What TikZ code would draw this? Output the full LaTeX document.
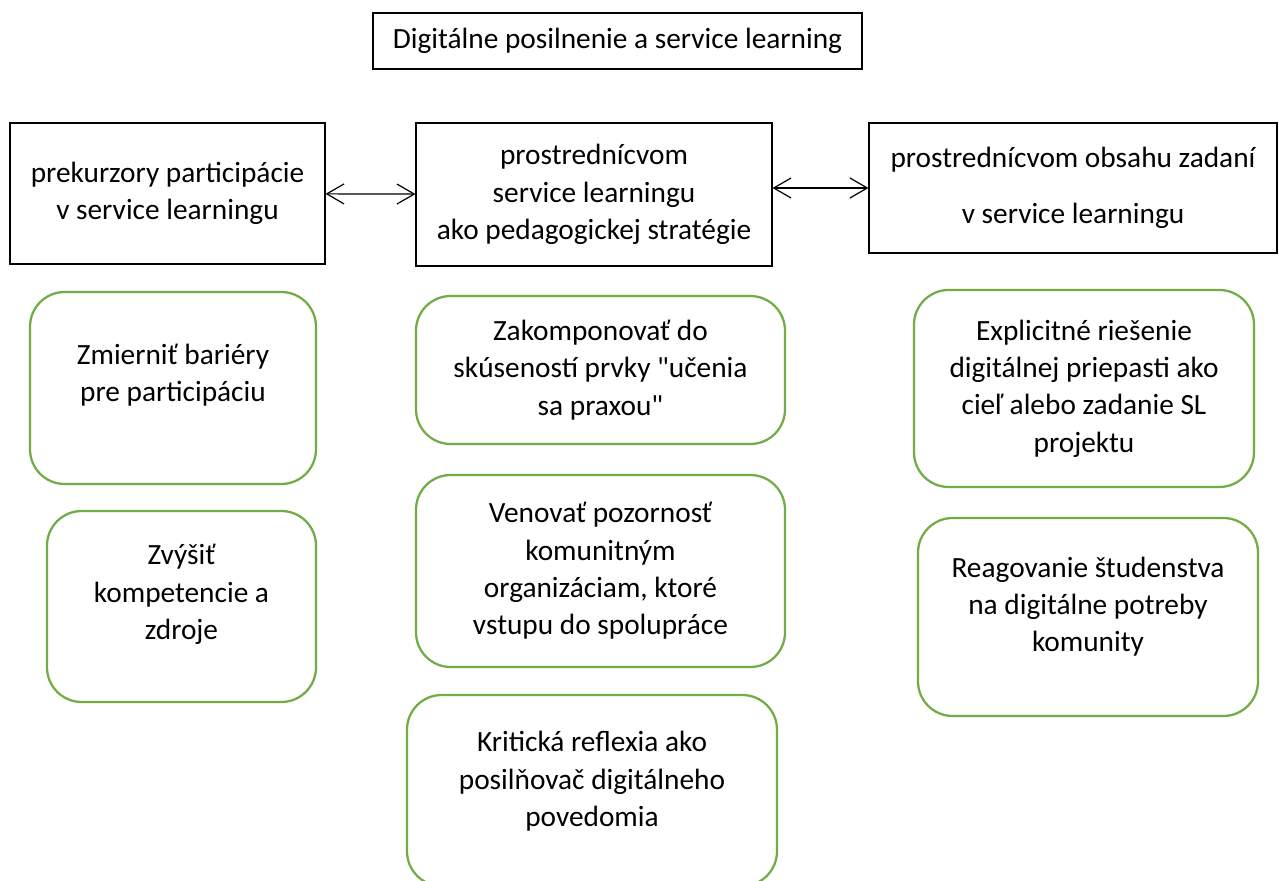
\documentclass[tikz,border=0pt]{standalone}
\usepackage{fontspec}
\setmainfont{Carlito}
\usetikzlibrary{positioning,arrows.meta}
\definecolor{boxgreen}{RGB}{112,173,71}

\begin{document}
\begin{tikzpicture}[
  x=0.75pt, y=-0.75pt,
  every node/.style={font=\fontsize{22}{28}\selectfont, align=center},
  %% Node styles
  hdnode/.style={
    draw=black, line width=0.8pt, inner sep=0pt,
  },
  grnode/.style={
    draw=boxgreen, line width=1.7pt, rounded corners=26pt,
    inner sep=0pt,
  },
  %% Edge style
  dedge/.style={draw=black, line width=0.9pt,
    {Straight Barb[length=13pt,width=15pt]}-{Straight Barb[length=13pt,width=15pt]}},
]
\clip (0,0) rectangle (1279,881);
\fill[white] (0,0) rectangle (1279,881);

%% Title
\node[hdnode, minimum width=366.75pt, minimum height=42pt]
    (title) at (617.5, 41) {Digitálne posilnenie a service learning};

%% Top row
\node[hdnode, minimum width=236.25pt, minimum height=105.75pt]
    (p1) at (167.5, 193.5) {prekurzory participácie\\v service learningu};
\node[hdnode, minimum width=267pt, minimum height=107.25pt]
    (p2) at (594, 194.5) {prostrednícvom\\service learningu\\ako pedagogickej stratégie};
\node[hdnode, minimum width=306pt, minimum height=97.5pt]
    (p3) at (1073, 188) {prostrednícvom obsahu zadaní\\[14pt]v service learningu};

\draw[dedge] (p1) -- (p2);
\draw[dedge] (p3.west -| p2.east) -- (p3.west);

%% Left column
\node[grnode, minimum width=214.5pt, minimum height=144pt]
    (l1) at (173, 388) {Zmierniť bariéry\\pre participáciu\\[-14pt]\strut};
\node[grnode, minimum width=201.75pt, minimum height=143.25pt]
    (l2) at (181.5, 606.5) {Zvýšiť\\kompetencie a\\zdroje\\[-14.5pt]\strut};

%% Middle column
\node[grnode, minimum width=276.75pt, minimum height=111pt]
    (m1) at (600.5, 370) {Zakomponovať do\\skúseností prvky \textquotedbl učenia\\sa praxou\textquotedbl};
\node[grnode, minimum width=276.75pt, minimum height=144pt]
    (m2) at (600.5, 571) {Venovať pozornosť\\komunitným\\organizáciam, ktoré\\vstupu do spolupráce};
\node[grnode, minimum width=277.5pt, minimum height=143.25pt]
    (m3) at (592, 790.5) {Kritická reflexia ako\\posilňovač digitálneho\\povedomia\\[-19pt]\strut};

%% Right column
\node[grnode, minimum width=255pt, minimum height=147.75pt]
    (r1) at (1084, 388.5) {Explicitné riešenie\\digitálnej priepasti ako\\cieľ alebo zadanie SL\\projektu};
\node[grnode, minimum width=255pt, minimum height=148.5pt]
    (r2) at (1088, 617) {Reagovanie študenstva\\na digitálne potreby\\komunity\\[-17.5pt]\strut};

\end{tikzpicture}
\end{document}
